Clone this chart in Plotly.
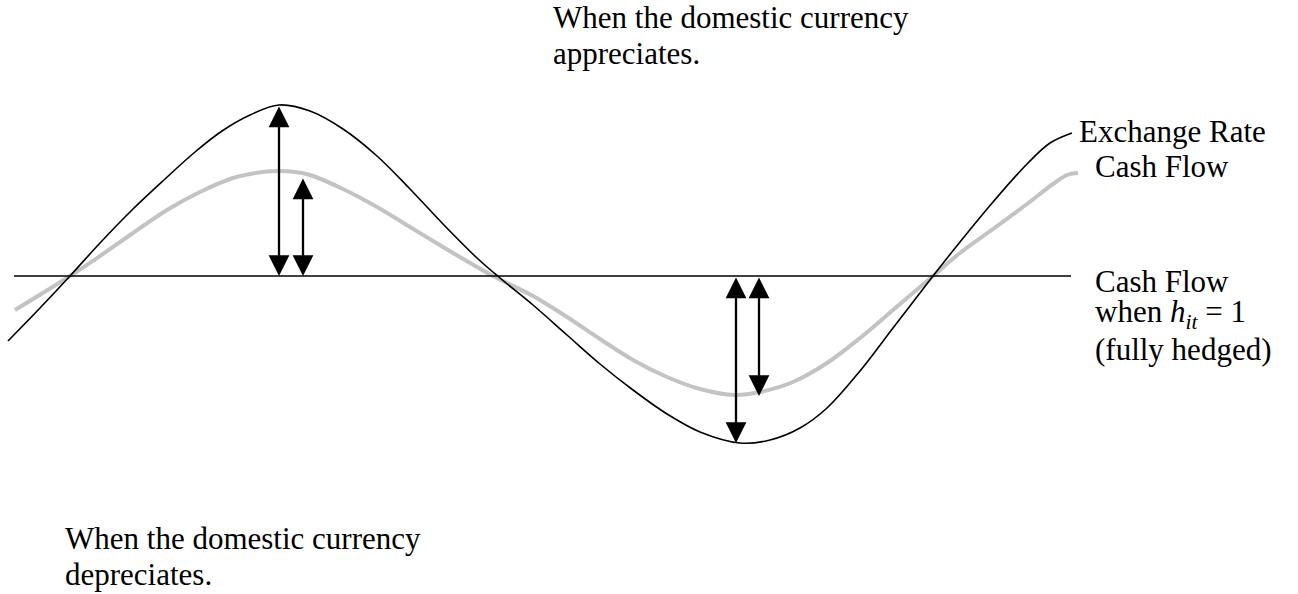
import plotly.graph_objects as go

# horizontal position along the cycle, and values relative to the fully hedged cash flow
rate_x = [8, 40, 70, 100, 133, 165, 195, 222, 250, 279, 310, 343, 377, 410, 443, 477, 500,
          533, 567, 600, 633, 667, 700, 740, 770, 800, 827, 860, 893, 933, 960, 993, 1027, 1050, 1072]
rate_y = [-65, -32, 0, 33, 67, 97, 124, 145, 161, 171, 165, 147, 120, 87, 52, 18, -2,
          -29, -59, -88, -114, -138, -156, -167, -164, -152, -132, -95, -52, 0, 34, 74, 112, 133, 143]

cash_x = [15, 70, 100, 133, 167, 200, 233, 250, 267, 279, 295, 310, 343, 377, 410, 443, 477, 493,
          533, 567, 600, 633, 667, 700, 735, 760, 793, 827, 860, 893, 933, 960, 993, 1027, 1053, 1067, 1078]
cash_y = [-34, 0, 20, 43, 66, 84, 98, 102, 104.5, 105, 104, 101, 87, 69, 49, 29, 9, 0,
          -20, -41, -63, -84, -101, -113, -119, -116, -106, -87, -62, -34, 0, 23, 47, 72, 92, 101, 103]

hedged_x = [14, 1071]
hedged_y = [0, 0]

# double arrows: position, top end, bottom end
arrow_x = [279, 303, 736, 759]
arrow_top = [171, 99, 0, 0]
arrow_bottom = [0, 0, -167, -120]

FONT = "Liberation Serif, Times New Roman, serif"
BASE = 276  # pixel row of the zero line


def py(v):
    return BASE - v


fig = go.Figure()

fig.add_trace(go.Scatter(x=cash_x, y=cash_y, mode="lines",
                         line=dict(color="#c3c3c3", width=4, shape="spline", smoothing=1)))
fig.add_trace(go.Scatter(x=rate_x, y=rate_y, mode="lines",
                         line=dict(color="black", width=1.6, shape="spline", smoothing=1)))
fig.add_trace(go.Scatter(x=hedged_x, y=hedged_y, mode="lines",
                         line=dict(color="black", width=1.6)))

for ax_, t, b in zip(arrow_x, arrow_top, arrow_bottom):
    fig.add_annotation(x=ax_, y=b, ax=ax_, ay=t, xref="x", yref="y", axref="x", ayref="y",
                       text="", showarrow=True, arrowhead=2, arrowside="end+start",
                       arrowsize=1.8, arrowwidth=2.3, arrowcolor="black", standoff=0, startstandoff=0)

labels = [
    ("When the domestic currency", 551, 17),
    ("appreciates.", 551, 53),
    ("Exchange Rate", 1077, 131),
    ("Cash Flow", 1093, 166),
    ("Cash Flow", 1093, 281),
    ("when <i>h</i><sub><i>it</i></sub> = 1", 1093, 314),
    ("(fully hedged)", 1093, 349),
    ("When the domestic currency", 63, 538),
    ("depreciates.", 63, 574),
]
for txt, lx, ly in labels:
    fig.add_annotation(x=lx, y=py(ly), xref="x", yref="y", text=txt, showarrow=False,
                       xanchor="left", yanchor="middle",
                       font=dict(family=FONT, size=31, color="black"))

fig.update_xaxes(range=[0, 1298], visible=False)
fig.update_yaxes(range=[BASE - 594, BASE], visible=False)
fig.update_layout(width=1298, height=594, margin=dict(l=0, r=0, t=0, b=0),
                  plot_bgcolor="white", paper_bgcolor="white", showlegend=False)

fig.write_html("out.html", config={"displayModeBar": False},
               post_script="document.body.style.margin='0';")
